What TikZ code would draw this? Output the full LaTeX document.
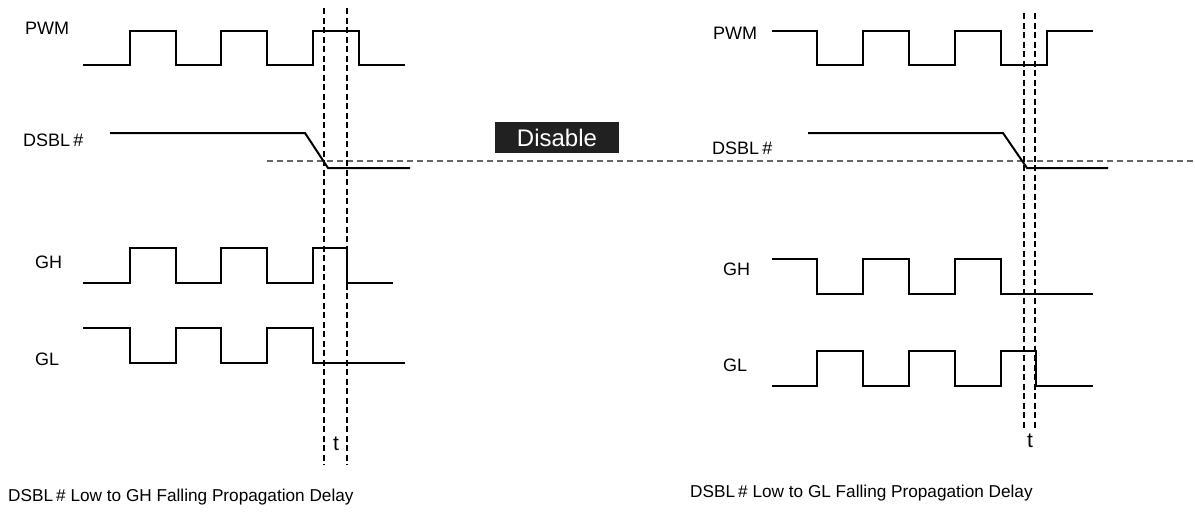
\documentclass[tikz,border=0pt]{standalone}
\usepackage{fontspec}
\setmainfont{Liberation Sans}
\begin{document}
\begin{tikzpicture}[x=1pt,y=-1pt,
  wave/.style={line width=2pt, line join=miter},
  vdash/.style={line width=2pt, dash pattern=on 6pt off 3.5pt},
  hdash/.style={line width=1.7pt, color=black!60, dash pattern=on 6pt off 4pt},
  lbl/.style={anchor=west, inner sep=0pt, font=\fontsize{18}{20}\selectfont},
  captxt/.style={anchor=west, inner sep=0pt, font=\fontsize{17.2}{20}\selectfont},
  tlbl/.style={inner sep=0pt, font=\fontsize{21}{23}\selectfont},
  disbox/.style={fill=black!87, text=white, minimum width=124pt, minimum height=31pt, inner sep=0pt, font=\fontsize{24}{26}\selectfont}]
\useasboundingbox (0,0) rectangle (1195,523);
% gray threshold line
\coordinate (th1) at (267,161);
\coordinate (th2) at (1195,161);
\draw[hdash] (th1) -- (th2);
% left panel waveforms
\draw[wave] (83,65) -- (130,65) -- (130,31) -- (176,31) -- (176,65) -- (221,65) -- (221,31) -- (267,31) -- (267,65) -- (313,65) -- (313,31) -- (359,31) -- (359,65) -- (405,65);
\draw[wave] (110,133) -- (305,133) -- (328,168) -- (410,168);
\draw[wave] (83,283) -- (130,283) -- (130,248) -- (176,248) -- (176,283) -- (221,283) -- (221,248) -- (267,248) -- (267,283) -- (313,283) -- (313,248) -- (347,248) -- (347,283) -- (393,283);
\draw[wave] (83,328) -- (130,328) -- (130,363) -- (176,363) -- (176,328) -- (221,328) -- (221,363) -- (267,363) -- (267,328) -- (313,328) -- (313,363) -- (405,363);
% right panel waveforms
\draw[wave] (772,31) -- (817,31) -- (817,65) -- (863,65) -- (863,31) -- (909,31) -- (909,65) -- (955,65) -- (955,31) -- (1001,31) -- (1001,65) -- (1047,65) -- (1047,31) -- (1093,31);
\draw[wave] (808,133) -- (1003,133) -- (1027,168) -- (1108,168);
\draw[wave] (772,259) -- (817,259) -- (817,294) -- (863,294) -- (863,259) -- (909,259) -- (909,294) -- (955,294) -- (955,259) -- (1001,259) -- (1001,294) -- (1093,294);
\draw[wave] (772,386) -- (817,386) -- (817,351) -- (863,351) -- (863,386) -- (909,386) -- (909,351) -- (955,351) -- (955,386) -- (1001,386) -- (1001,351) -- (1036,351) -- (1036,386) -- (1093,386);
% dashed verticals
\coordinate (la1) at (324,8);   \coordinate (la2) at (324,465);
\coordinate (lb1) at (347,8);   \coordinate (lb2) at (347,465);
\coordinate (ra1) at (1024,13); \coordinate (ra2) at (1024,430);
\coordinate (rb1) at (1035,13); \coordinate (rb2) at (1035,430);
\draw[vdash] (la1) -- (la2);
\draw[vdash] (lb1) -- (lb2);
\draw[vdash] (ra1) -- (ra2);
\draw[vdash] (rb1) -- (rb2);
% Disable box
\node[disbox] (dis) at (557,137.5) {Disable};
% left labels
\node[lbl] (pwmL) at (25,28) {PWM};
\node[lbl] (dsblL) at (23,140) {DSBL\hspace{0.18em}\#};
\node[lbl] (ghL) at (35,262) {GH};
\node[lbl] (glL) at (35,359) {GL};
\node[tlbl] (tL) at (336,444) {t};
\node[captxt] (capL) at (8,497) {DSBL\hspace{0.18em}\# Low to GH Falling Propagation Delay};
% right labels
\node[lbl] (pwmR) at (713,33) {PWM};
\node[lbl] (dsblR) at (712,148) {DSBL\hspace{0.18em}\#};
\node[lbl] (ghR) at (723,269) {GH};
\node[lbl] (glR) at (723,365) {GL};
\node[tlbl] (tR) at (1030,441) {t};
\node[captxt] (capR) at (690,493) {DSBL\hspace{0.18em}\# Low to GL Falling Propagation Delay};
\end{tikzpicture}
\end{document}
